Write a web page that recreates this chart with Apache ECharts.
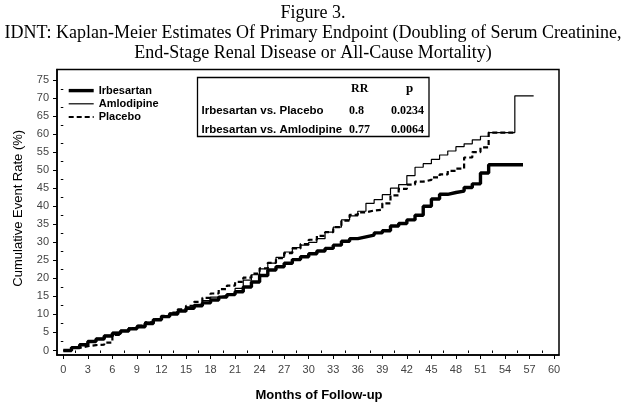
<!DOCTYPE html>
<html>
<head>
<meta charset="utf-8">
<script src="https://cdn.jsdelivr.net/npm/echarts@6/dist/echarts.min.js"></script>
<style>
html,body{margin:0;padding:0;background:#fff;}
#chart{width:626px;height:407px;}
</style>
</head>
<body>
<div id="chart"></div>
<script>
// ---- Data ----
const titleLines = [
  'Figure 3.',
  'IDNT: Kaplan-Meier Estimates Of Primary Endpoint (Doubling of Serum Creatinine,',
  'End-Stage Renal Disease or All-Cause Mortality)'
];
const xTitle = 'Months of Follow-up';
const yTitle = 'Cumulative Event Rate (%)';
const seriesNames = ['Irbesartan', 'Amlodipine', 'Placebo'];

const xTickLabels = [0,3,6,9,12,15,18,21,24,27,30,33,36,39,42,45,48,51,54,57,60];
const yTickLabels = [0,5,10,15,20,25,30,35,40,45,50,55,60,65,70,75];

const months = [0,1,2,3,4,5,6,7,8,9,10,11,12,13,14,15,16,17,18,19,20,21,22,23,24,25,26,
                27,28,29,30,31,32,33,34,35,36,37,38,39,40,41,42,43,44,45,46,47,48,49,50,51,52];
const irbesartan = [0,0.8,1.6,2.5,3.2,4.0,4.8,5.4,6.0,6.6,7.5,8.5,9.4,10.1,10.9,11.7,12.4,13.2,14.0,14.8,
                    15.5,16.3,17.6,19.0,20.8,22.3,23.2,24.2,25.2,26.0,26.8,27.6,28.3,29.2,30.3,31.0,31.5,
                    32.0,32.6,33.2,34.5,35.2,36.2,37.5,40.0,42.0,43.3,43.8,44.2,45.2,46.2,49.2,51.5];
const amlodipine = [0,0.8,1.8,2.7,3.4,4.2,5.0,5.6,6.3,7.0,7.9,8.8,9.6,10.4,11.2,12.0,12.8,13.8,14.8,15.3,
                    15.8,17.2,19.5,21.0,22.6,24.2,25.8,27.3,28.5,29.2,30.0,31.0,32.8,34.2,36.2,37.3,38.6,
                    40.8,41.8,43.2,45.0,46.0,48.5,50.8,51.8,53.0,54.2,55.3,56.5,57.3,58.4,59.4,60.4];
const placebo    = [0,0.7,1.2,1.5,1.6,2.2,4.3,5.4,6.2,6.9,7.8,8.7,9.6,10.5,11.4,12.4,13.5,14.6,15.8,17.0,
                    18.0,19.0,20.2,21.3,22.8,24.3,25.6,27.0,28.3,29.5,30.7,31.8,32.8,34.2,36.0,37.6,38.3,
                    38.8,39.0,40.8,43.0,44.8,46.0,46.8,47.3,48.0,48.8,49.8,50.4,53.5,55.0,56.3,60.4];
// last observed points after month 52
const irbesartanTailMonths = [56.2];
const irbesartanTailRates  = [51.5];
const amlodipineTailMonths = [55.2, 57.5];
const amlodipineTailRates  = [70.6, 70.6];
const placeboTailMonths    = [55.2];
const placeboTailRates     = [60.4];

const statHeaders = ['RR', 'p'];
const statRows = ['Irbesartan vs. Placebo', 'Irbesartan vs. Amlodipine'];
const statRR = ['0.8', '0.77'];
const statP = ['0.0234', '0.0064'];

// ---- Build ----
function pairs(xs, ys, tx, ty) {
  const out = xs.map((m, i) => [m, ys[i]]);
  tx.forEach((m, i) => out.push([m, ty[i]]));
  return out;
}
const xMinor = xTickLabels.slice(0, -1).map(v => v + 1.5);
const yMinor = yTickLabels.slice(0, -1).map(v => v + 2.5);

const SANS = 'Liberation Sans, Arial, sans-serif';
const SERIF = 'Liberation Serif, Times New Roman, serif';

const chart = echarts.init(document.getElementById('chart'), null, {renderer: 'canvas'});

const statTexts = [];
statTexts.push({type:'text', left: 351, top: 83, style:{text: statHeaders[0], font: 'bold 12px ' + SERIF, fill:'#000'}});
statTexts.push({type:'text', left: 406, top: 82, style:{text: statHeaders[1], font: 'bold 13px ' + SERIF, fill:'#000'}});
statRows.forEach((r, i) => {
  const ty = 104.5 + i * 19;
  statTexts.push({type:'text', left: 201.5, top: ty, style:{text: r, font: 'bold 11.5px ' + SANS, fill:'#000'}});
  statTexts.push({type:'text', left: 349, top: ty, style:{text: statRR[i], font: 'bold 12px ' + SERIF, fill:'#000'}});
  statTexts.push({type:'text', right: 626 - 424, top: ty, style:{text: statP[i], font: 'bold 12px ' + SERIF, fill:'#000'}});
});

const option = {
  backgroundColor: '#fff',
  animation: false,
  title: {
    text: titleLines.join('\n'),
    left: 'center',
    top: -2,
    textStyle: {fontFamily: SERIF, fontSize: 18, fontWeight: 'normal', color: '#000', lineHeight: 20}
  },
  legend: {
    orient: 'vertical',
    left: 62,
    top: 80,
    itemWidth: 25,
    itemHeight: 14,
    itemGap: 2,
    data: seriesNames,
    itemStyle: {opacity: 0},
    lineStyle: {width: 'inherit'},
    textStyle: {fontFamily: SANS, fontSize: 11, fontWeight: 'bold', color: '#000'}
  },
  grid: {
    left: 57, right: 67, top: 69.5, bottom: 52,
    show: true, borderColor: '#000', borderWidth: 1.5, backgroundColor: 'transparent'
  },
  xAxis: [{
    type: 'value', min: -0.77, max: 60.6,
    axisLine: {show: true, onZero: false, lineStyle: {color: '#000', width: 1.5}},
    axisTick: {show: true, customValues: xTickLabels, length: 4, lineStyle: {color: '#000', width: 1}},
    axisLabel: {customValues: xTickLabels, fontFamily: SANS, fontSize: 11, color: '#444', margin: 9},
    splitLine: {show: false},
    name: xTitle, nameLocation: 'middle', nameGap: 34,
    nameTextStyle: {fontFamily: SANS, fontSize: 13, fontWeight: 'bold', color: '#000', padding: [0,0,0,22]}
  }, {
    type: 'value', min: -0.77, max: 60.6, position: 'bottom',
    axisLine: {show: false},
    axisTick: {show: true, customValues: xMinor, length: 2.5, lineStyle: {color: '#000', width: 1}},
    axisLabel: {show: false},
    splitLine: {show: false}
  }],
  yAxis: [{
    type: 'value', min: -1.25, max: 77.9,
    axisLine: {show: true, onZero: false, lineStyle: {color: '#000', width: 1.5}},
    axisTick: {show: true, customValues: yTickLabels, length: 4, lineStyle: {color: '#000', width: 1}},
    axisLabel: {customValues: yTickLabels, fontFamily: SANS, fontSize: 11, color: '#444', margin: 8},
    splitLine: {show: false},
    name: yTitle, nameLocation: 'middle', nameGap: 32,
    nameTextStyle: {fontFamily: SANS, fontSize: 13, color: '#000', padding: [0,0,0,8]}
  }, {
    type: 'value', min: -1.25, max: 77.9, position: 'left',
    axisLine: {show: false},
    axisTick: {show: true, customValues: yMinor, length: 2.5, lineStyle: {color: '#000', width: 1}},
    axisLabel: {show: false},
    splitLine: {show: false}
  }],
  graphic: [
    {type: 'rect', shape: {x: 197.5, y: 77.5, width: 231.5, height: 59}, style: {fill: '#fff', stroke: '#000', lineWidth: 1.3}, z: 50},
    ...statTexts.map(t => Object.assign(t, {z: 51}))
  ],
  series: [
    {
      name: seriesNames[0], type: 'line', step: 'end', showSymbol: false, symbol: 'none',
      data: pairs(months, irbesartan, irbesartanTailMonths, irbesartanTailRates),
      lineStyle: {color: '#000', width: 3.4}, itemStyle: {color: '#000'}, z: 3
    },
    {
      name: seriesNames[1], type: 'line', step: 'end', showSymbol: false, symbol: 'none',
      data: pairs(months, amlodipine, amlodipineTailMonths, amlodipineTailRates),
      lineStyle: {color: '#000', width: 1.2}, itemStyle: {color: '#000'}, z: 4
    },
    {
      name: seriesNames[2], type: 'line', step: 'end', showSymbol: false, symbol: 'none',
      data: pairs(months, placebo, placeboTailMonths, placeboTailRates),
      lineStyle: {color: '#000', width: 2.2, type: [5, 3]}, itemStyle: {color: '#000'}, z: 2
    }
  ]
};
chart.setOption(option);
</script>
</body>
</html>
